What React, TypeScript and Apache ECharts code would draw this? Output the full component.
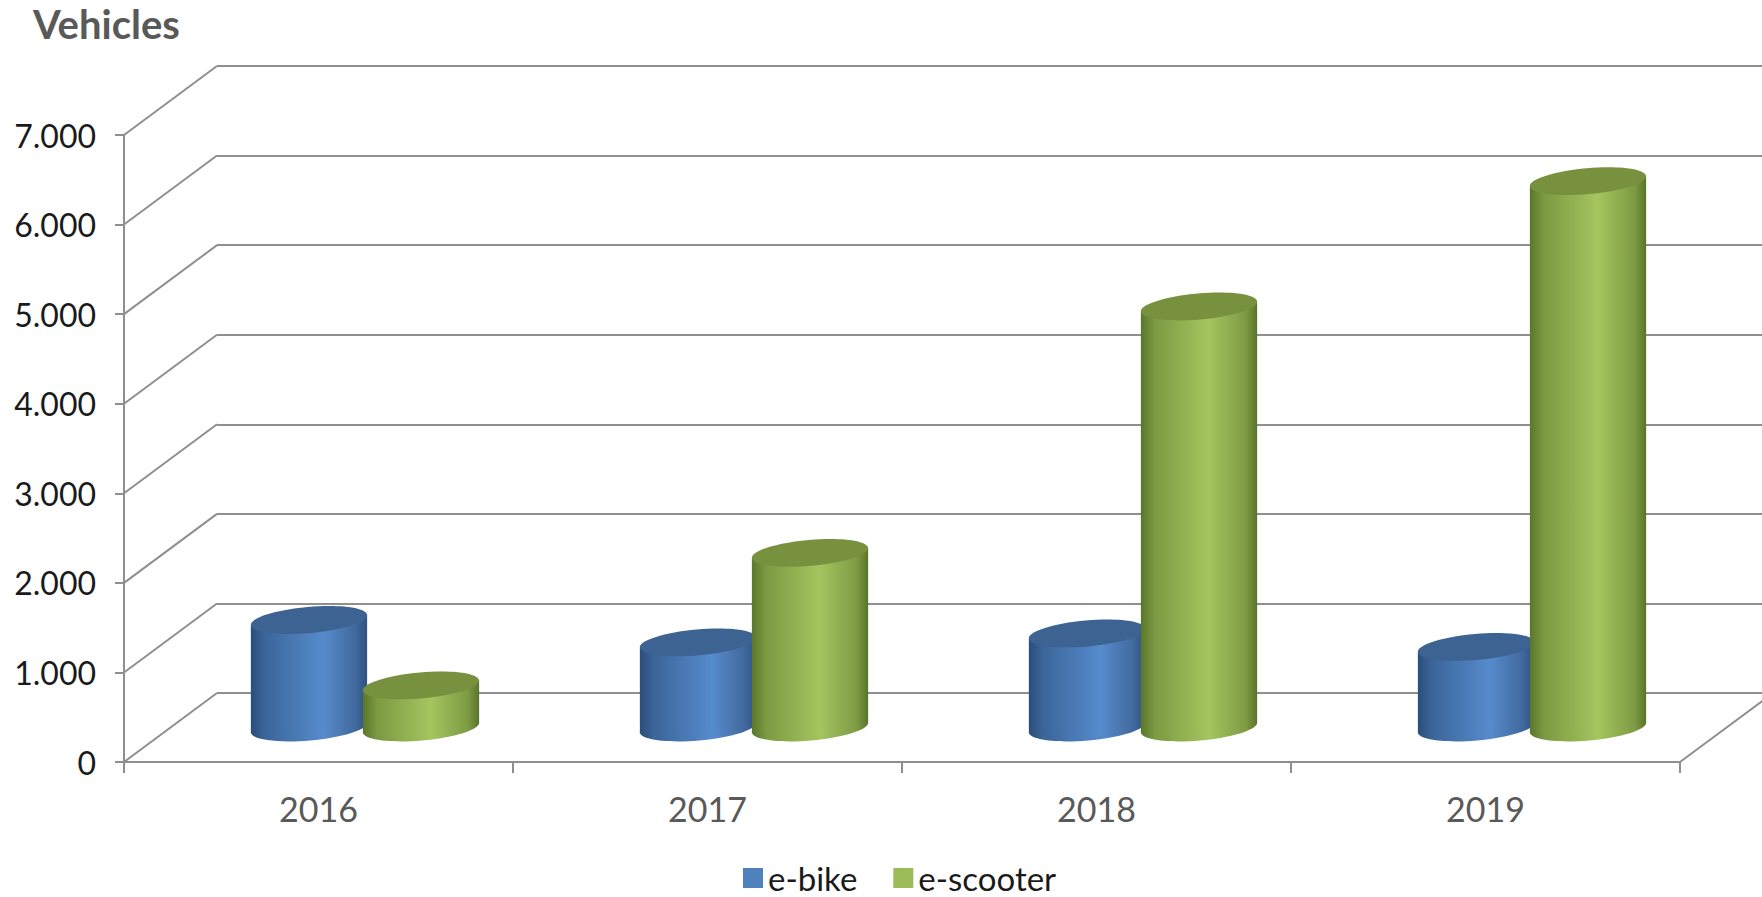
import React, { useEffect, useRef } from 'react';
import * as echarts from 'echarts';

const categories = ['2016', '2017', '2018', '2019'];
const eBike = [1200, 950, 1050, 900];
const eScooter = [470, 1950, 4700, 6100];
const yTicks = [0, 1000, 2000, 3000, 4000, 5000, 6000, 7000];
const seriesNames = ['e-bike', 'e-scooter'];
const Y_MIN = 0;
const Y_MAX = 7000;
const Y_STEP = 1000;

const W = 1762;
const H = 897;
const FRONT = { left: 124, top: 135, width: 1556, height: 627 };
const DEPTH = { dx: 93, dy: -69 };
const BAR = { widthRatio: 0.3, offsetRatio: 0.144, minor: 13, tilt: (5 * Math.PI) / 180 };
const GRID_COLOR = '#8f8f8f';
const FONT = 'Lato, "Open Sans", sans-serif';

const blueStops = [
  { offset: 0, color: '#2b4d7a' },
  { offset: 0.12, color: '#3b659a' },
  { offset: 0.62, color: '#568bcc' },
  { offset: 0.9, color: '#41699d' },
  { offset: 1, color: '#2e5281' },
];
const greenStops = [
  { offset: 0, color: '#5b762b' },
  { offset: 0.12, color: '#7b9a42' },
  { offset: 0.58, color: '#a4c55f' },
  { offset: 0.9, color: '#7e9b44' },
  { offset: 1, color: '#59742a' },
];

const grad = (stops: any[]) => ({ type: 'linear', x: 0, y: 0, x2: 1, y2: 0, colorStops: stops });

const fmt = (v: number) => String(v).replace(/\B(?=(\d{3})+(?!\d))/g, '.');

const cylinderRender = (stops: any[], topColor: string, sign: number) => (params: any, api: any) => {
  const idx = api.value(0);
  const v = api.value(1);
  const base = api.coord([idx, 0]);
  const top = api.coord([idx, v]);
  const bw = api.size([1, 0])[0];
  const a = (bw * BAR.widthRatio) / 2;
  const cx = base[0] + sign * BAR.offsetRatio * bw + DEPTH.dx / 2;
  const cyB = base[1] + DEPTH.dy / 2;
  const cyT = top[1] + DEPTH.dy / 2;
  const c = Math.cos(BAR.tilt);
  const s = Math.sin(BAR.tilt);
  const lx = cx - a * c;
  const rx = cx + a * c;
  return {
    type: 'group',
    children: [
      {
        type: 'ellipse',
        x: cx,
        y: cyB,
        rotation: BAR.tilt,
        shape: { cx: 0, cy: 0, rx: a, ry: BAR.minor },
        style: { fill: grad(stops) },
      },
      {
        type: 'polygon',
        shape: {
          points: [
            [lx, cyT + a * s],
            [rx, cyT - a * s],
            [rx, cyB - a * s],
            [lx, cyB + a * s],
          ],
        },
        style: { fill: grad(stops) },
      },
      {
        type: 'ellipse',
        x: cx,
        y: cyT,
        rotation: BAR.tilt,
        shape: { cx: 0, cy: 0, rx: a, ry: BAR.minor },
        style: { fill: topColor },
      },
    ],
  };
};

export default function App() {
  const ref = useRef<HTMLDivElement>(null);
  useEffect(() => {
    if (!ref.current) return;
    const chart = echarts.init(ref.current, null, { renderer: 'svg' });
    const option: any = {
      animation: false,
      backgroundColor: '#ffffff',
      title: {
        text: 'Vehicles',
        left: 33,
        top: 3,
        padding: 0,
        textStyle: { fontSize: 40, lineHeight: 42, fontWeight: 'bold', color: '#595959', fontFamily: FONT },
      },
      legend: {
        data: seriesNames.map((n) => ({ name: n, icon: 'rect' })),
        left: 743,
        top: 861,
        padding: 0,
        itemWidth: 20,
        itemHeight: 20,
        itemGap: 36,
        textStyle: { fontSize: 33, lineHeight: 34, color: '#1a1a1a', fontFamily: FONT },
      },
      grid: [
        { ...FRONT },
        {
          left: FRONT.left + DEPTH.dx,
          top: FRONT.top + DEPTH.dy,
          width: FRONT.width,
          height: FRONT.height,
        },
      ],
      xAxis: [
        {
          type: 'category',
          gridIndex: 0,
          data: categories,
          boundaryGap: true,
          axisLine: { show: true, lineStyle: { color: GRID_COLOR, width: 2 } },
          axisTick: { show: true, length: 11, lineStyle: { color: GRID_COLOR, width: 2 } },
          axisLabel: { fontSize: 34, color: '#595959', margin: 29, fontFamily: FONT },
          splitLine: { show: false },
        },
        { type: 'category', gridIndex: 1, data: categories, show: false },
      ],
      yAxis: [
        {
          type: 'value',
          gridIndex: 0,
          min: Y_MIN,
          max: Y_MAX,
          interval: Y_STEP,
          axisLine: { show: true, lineStyle: { color: GRID_COLOR, width: 2 } },
          axisTick: { show: true, length: 9, lineStyle: { color: GRID_COLOR, width: 2 } },
          axisLabel: { fontSize: 32, color: '#1a1a1a', margin: 28, fontFamily: FONT, formatter: fmt },
          splitLine: { show: false },
        },
        {
          type: 'value',
          gridIndex: 1,
          min: Y_MIN,
          max: Y_MAX,
          interval: Y_STEP,
          axisLine: { show: false },
          axisTick: { show: false },
          axisLabel: { show: false },
          splitLine: { show: true, lineStyle: { color: GRID_COLOR, width: 2 } },
        },
      ],
      series: [
        {
          type: 'custom',
          name: 'walls',
          xAxisIndex: 0,
          yAxisIndex: 0,
          silent: true,
          data: yTicks.map((v) => [0, v]),
          renderItem: (params: any, api: any) => {
            const v = api.value(1);
            const p = api.coord([0, v]);
            const x0 = params.coordSys.x;
            const children: any[] = [
              {
                type: 'line',
                shape: { x1: x0, y1: p[1], x2: x0 + DEPTH.dx, y2: p[1] + DEPTH.dy },
                style: { stroke: GRID_COLOR, lineWidth: 2 },
              },
            ];
            if (v === 0) {
              const x1 = x0 + params.coordSys.width;
              children.push({
                type: 'line',
                shape: { x1, y1: p[1], x2: x1 + DEPTH.dx, y2: p[1] + DEPTH.dy },
                style: { stroke: GRID_COLOR, lineWidth: 2 },
              });
            }
            return { type: 'group', children };
          },
        },
        {
          type: 'custom',
          name: seriesNames[0],
          xAxisIndex: 0,
          yAxisIndex: 0,
          itemStyle: { color: '#4f81bd' },
          data: eBike.map((v, i) => [i, v]),
          renderItem: cylinderRender(blueStops, '#3c6391', -1),
        },
        {
          type: 'custom',
          name: seriesNames[1],
          xAxisIndex: 0,
          yAxisIndex: 0,
          itemStyle: { color: '#9bbb59' },
          data: eScooter.map((v, i) => [i, v]),
          renderItem: cylinderRender(greenStops, '#77913f', 1),
        },
      ],
    };
    chart.setOption(option);
    return () => chart.dispose();
  }, []);
  return (
    <div
      ref={ref}
      style={{ position: 'fixed', left: 0, top: 0, width: W, height: H, background: '#fff' }}
    />
  );
}
